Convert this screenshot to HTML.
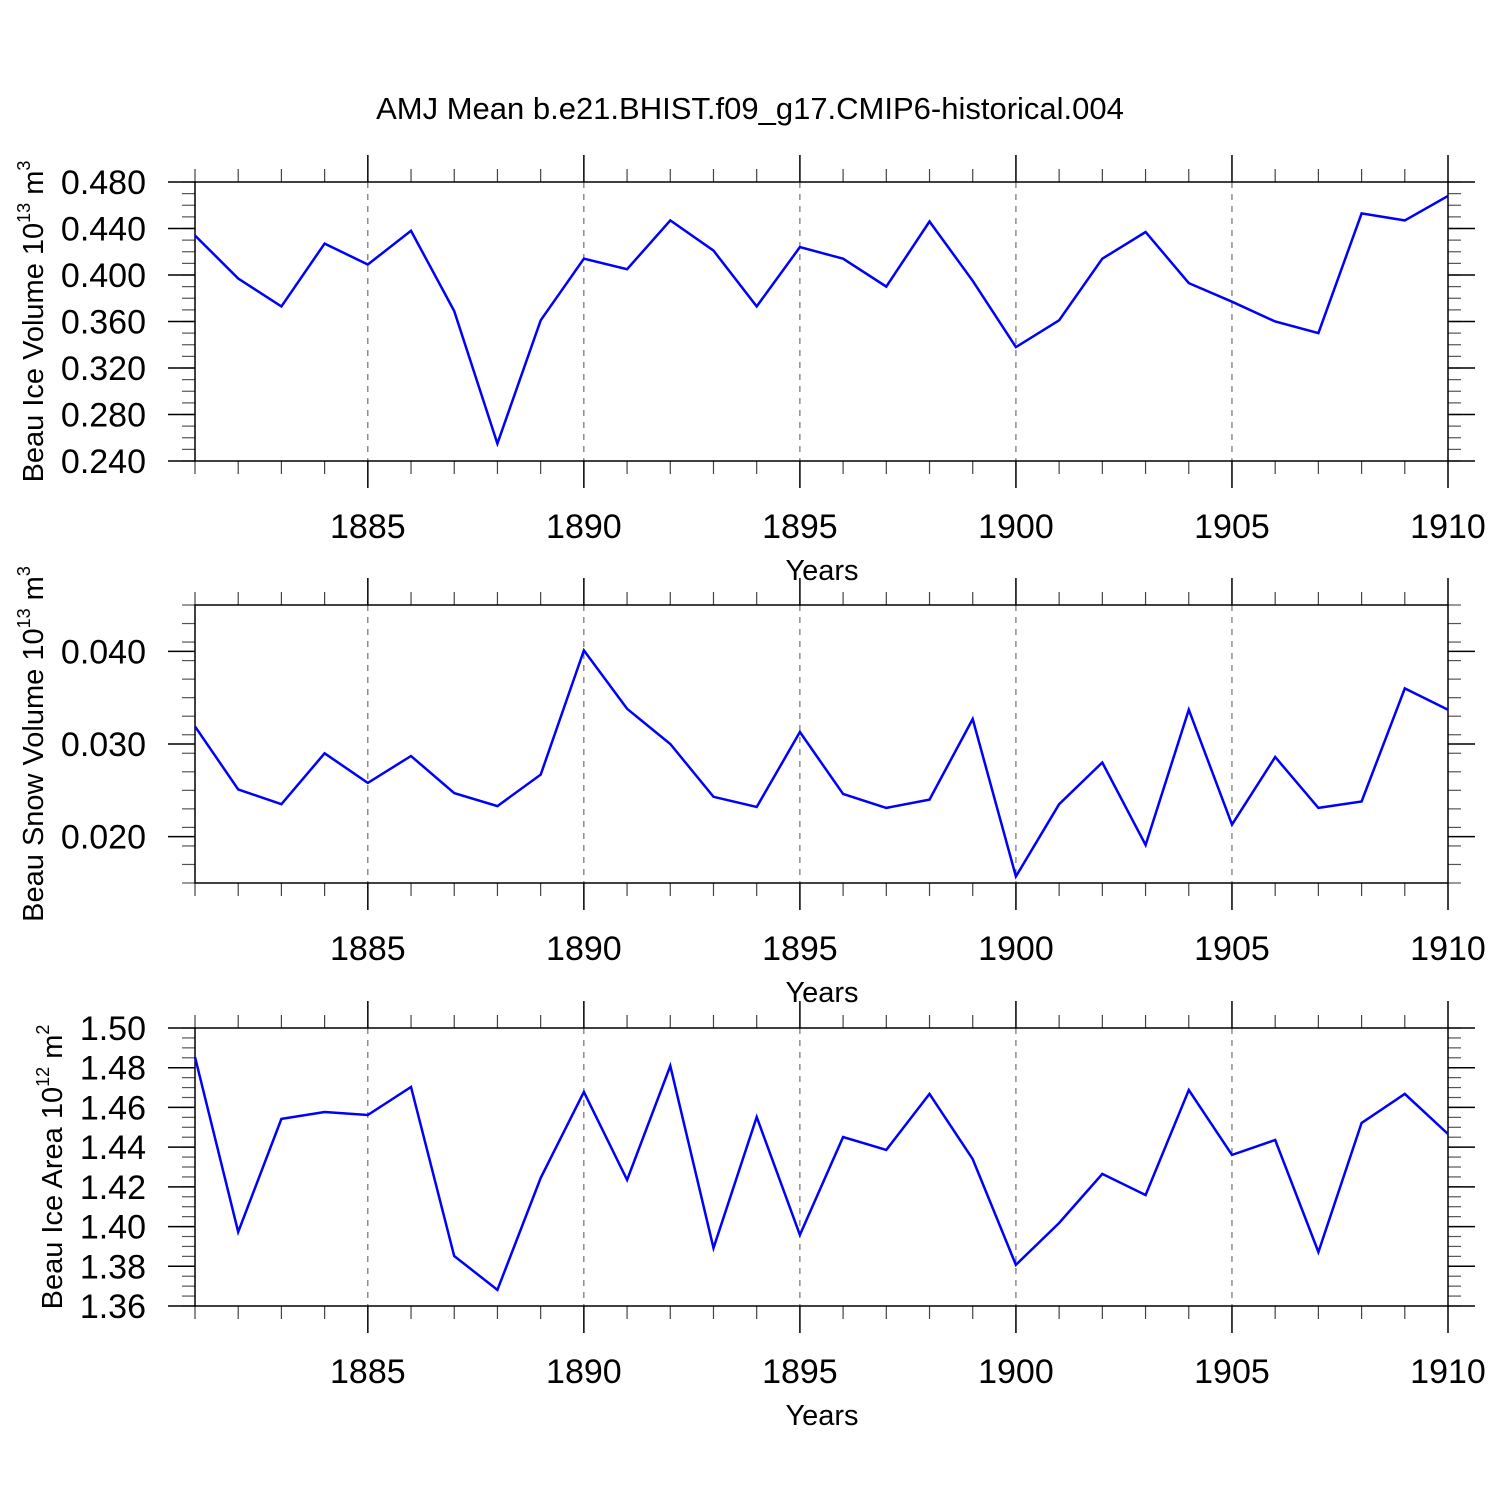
<!DOCTYPE html>
<html><head><meta charset="utf-8"><style>
html,body{margin:0;padding:0;background:#fff;}
svg{display:block;font-family:"Liberation Sans",sans-serif;}
</style></head><body>
<svg id="chart" width="1500" height="1500" viewBox="0 0 1500 1500" xmlns="http://www.w3.org/2000/svg">
<text x="750" y="119" font-size="31" text-anchor="middle">AMJ Mean b.e21.BHIST.f09_g17.CMIP6-historical.004</text>
</svg>
<script>
const years = [1881,1882,1883,1884,1885,1886,1887,1888,1889,1890,1891,1892,1893,1894,1895,1896,1897,1898,1899,1900,1901,1902,1903,1904,1905,1906,1907,1908,1909,1910];
const iceVolume = [0.434,0.397,0.373,0.427,0.409,0.438,0.369,0.255,0.361,0.414,0.405,0.447,0.421,0.373,0.424,0.414,0.390,0.446,0.395,0.338,0.361,0.414,0.437,0.393,0.377,0.360,0.350,0.453,0.447,0.468];
const snowVolume = [0.0319,0.0251,0.0235,0.0290,0.0258,0.0287,0.0247,0.0233,0.0267,0.0401,0.0338,0.0300,0.0243,0.0232,0.0313,0.0246,0.0231,0.0240,0.0327,0.0157,0.0235,0.0280,0.0191,0.0337,0.0213,0.0286,0.0231,0.0238,0.0360,0.0337];
const iceArea = [1.4854,1.3973,1.4542,1.4577,1.4562,1.4703,1.3852,1.3681,1.4245,1.4678,1.4235,1.4809,1.3892,1.4552,1.3958,1.4451,1.4386,1.4668,1.4340,1.3807,1.4018,1.4265,1.4159,1.4688,1.4361,1.4436,1.3872,1.4522,1.4668,1.4466];
const xTicks = [1885,1890,1895,1900,1905,1910];
const iceVolTicks = ["0.240","0.280","0.320","0.360","0.400","0.440","0.480"];
const snowTicks = ["0.020","0.030","0.040"];
const areaTicks = ["1.36","1.38","1.40","1.42","1.44","1.46","1.48","1.50"];

const NS="http://www.w3.org/2000/svg";
const svg=document.getElementById('chart');
function mk(tag,attrs,parent){const e=document.createElementNS(NS,tag);for(const k in attrs)e.setAttribute(k,attrs[k]);(parent||svg).appendChild(e);return e;}
const X0=195,X1=1448,XMIN=1881,XMAX=1910;
function xs(v){return X0+(v-XMIN)/(XMAX-XMIN)*(X1-X0);}

function panel(name,top,bot,ymin,ymax,ticks,minorStep,data,titleMain,sup,unit,titleX){
  const g=mk('g',{});
  
  
  const ys=v=>bot-(v-ymin)/(ymax-ymin)*(bot-top);
  xTicks.forEach(t=>{ if(t<XMAX){const l=mk('line',{x1:xs(t),x2:xs(t),y1:top,y2:bot,stroke:'#555','stroke-width':1,'stroke-dasharray':'6,6'},g);
    
    }});
  years.forEach(y=>{ if(xTicks.indexOf(y)<0){
    mk('line',{x1:xs(y),x2:xs(y),y1:top-13,y2:top,stroke:'#444','stroke-width':1.2},g);
    mk('line',{x1:xs(y),x2:xs(y),y1:bot,y2:bot+13,stroke:'#444','stroke-width':1.2},g);}});
  xTicks.forEach(t=>{
    mk('line',{x1:xs(t),x2:xs(t),y1:top-27,y2:top,stroke:'#000','stroke-width':1.5},g);
    mk('line',{x1:xs(t),x2:xs(t),y1:bot,y2:bot+27,stroke:'#000','stroke-width':1.5},g);
    const tx=mk('text',{x:xs(t),y:bot+77,'font-size':34,'text-anchor':'middle'},g);
    tx.textContent=t;
    
    
  });
  for(let v=ymin;v<=ymax+1e-9;v+=minorStep){
    const yy=ys(v);
    mk('line',{x1:X0-13,x2:X0,y1:yy,y2:yy,stroke:'#555','stroke-width':1.2},g);
    mk('line',{x1:X1,x2:X1+13,y1:yy,y2:yy,stroke:'#555','stroke-width':1.2},g);
  }
  ticks.forEach(s=>{const v=parseFloat(s),yy=ys(v);
    mk('line',{x1:X0-27,x2:X0,y1:yy,y2:yy,stroke:'#000','stroke-width':1.5},g);
    mk('line',{x1:X1,x2:X1+27,y1:yy,y2:yy,stroke:'#000','stroke-width':1.5},g);
    const tx=mk('text',{x:146,y:yy+12,'font-size':34,'text-anchor':'end'},g);
    tx.textContent=s;
    
    
  });
  const fr=mk('rect',{x:X0,y:top,width:X1-X0,height:bot-top,fill:'none',stroke:'#000','stroke-width':1.5},g);
  
  
  const pts=data.map((v,i)=>xs(years[i]).toFixed(1)+','+ys(v).toFixed(1)).join(' ');
  const pl=mk('polyline',{points:pts,fill:'none',stroke:'#0000ff','stroke-width':2.5,'stroke-linejoin':'miter'},g);
  
  
  const xt=mk('text',{x:822,y:bot+119,'font-size':29,'text-anchor':'middle'},g);
  xt.textContent='Years';
  
  
  const cy=(top+bot)/2;
  const yt=mk('text',{x:titleX,y:cy,'font-size':29,'text-anchor':'middle',transform:'rotate(-90 '+titleX+' '+cy+')'},g);
  
  
  const a=mk('tspan',{},yt);a.textContent=titleMain;
  const b=mk('tspan',{'font-size':18,dy:-13},yt);b.textContent=sup[0];
  const c=mk('tspan',{dy:13},yt);c.textContent=unit;
  const d=mk('tspan',{'font-size':18,dy:-13},yt);d.textContent=sup[1];
}
panel('ice-volume',182,461,0.24,0.48,iceVolTicks,0.01,iceVolume,'Beau Ice Volume 10',['13','3'],' m',43);
panel('snow-volume',605,883,0.015,0.045,snowTicks,0.002,snowVolume,'Beau Snow Volume 10',['13','3'],' m',43);
panel('ice-area',1028,1306,1.36,1.50,areaTicks,0.005,iceArea,'Beau Ice Area 10',['12','2'],' m',62);
</script>
</body></html>
